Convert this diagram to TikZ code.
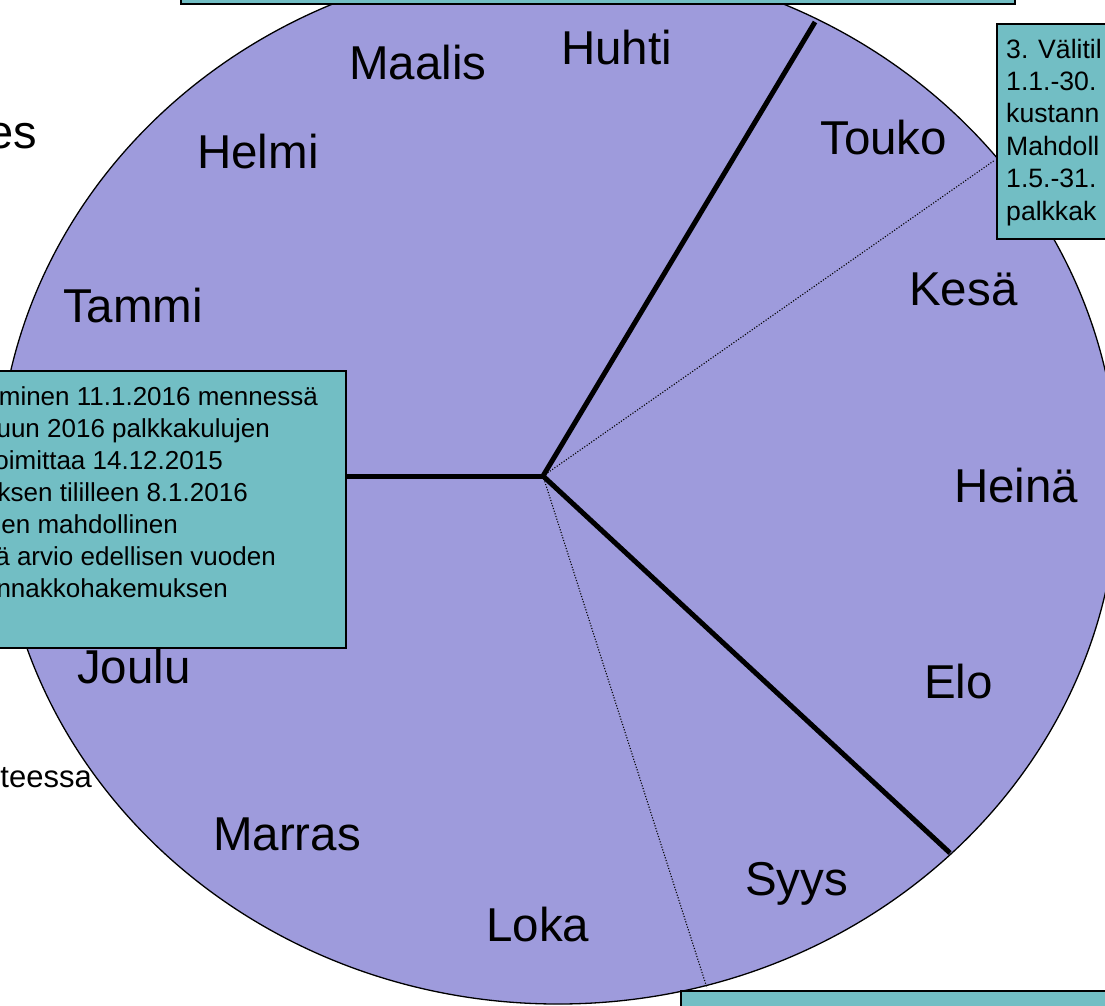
\documentclass[tikz,border=0pt]{standalone}
\usepackage{fontspec}
\setmainfont{Liberation Sans}
\definecolor{piefill}{RGB}{158,155,220}
\definecolor{boxfill}{RGB}{114,190,196}
\begin{document}
\begin{tikzpicture}[x=1pt,y=-1pt,
  month/.style={font=\fontsize{47.5}{52}\selectfont, anchor=base west, inner sep=0pt, text=black},
  boxtxt/.style={font=\fontsize{26}{32}\selectfont, anchor=base east, inner sep=0pt},
  boxtxtw/.style={font=\fontsize{26.6}{32}\selectfont, anchor=base west, inner sep=0pt},
  infobox/.style={draw=black, line width=2pt, fill=boxfill, inner sep=0pt},
  spoke/.style={line width=5pt, line join=miter},
  dotspoke/.style={line width=1.1pt, dash pattern=on 1.1pt off 1.7pt}]
\useasboundingbox (0,0) rectangle (1105,1005);
\clip (0,0) rectangle (1105,1005);
\fill[white] (0,0) rectangle (1105,1005);
% pie
\draw[fill=piefill, line width=1.3pt] (558,482) ellipse [x radius=560, y radius=522];
% spokes
\coordinate (c) at (543,476);
\coordinate (e1) at (815,22);
\coordinate (e2) at (330,476);
\coordinate (e3) at (950,853);
\coordinate (d1) at (995,160);
\coordinate (d2) at (707,988);
\draw[dotspoke] (c) -- (d1);
\draw[dotspoke] (c) -- (d2);
\draw[spoke] (e1) -- (c) -- (e3);
\draw[spoke] (c) -- (e2);
% months
\node[month] (maalis) at (349,79) {Maalis};
\node[month] (huhti) at (561,64) {Huhti};
\node[month] (helmi) at (197,168) {Helmi};
\node[month] (tammi) at (63,322) {Tammi};
\node[month] (touko) at (820,154) {Touko};
\node[month] (kesa) at (909,305) {Kesä};
\node[month] (heina) at (954,502) {Heinä};
\node[month] (elo) at (924,698) {Elo};
\node[month] (syys) at (745,895) {Syys};
\node[month] (loka) at (486,941) {Loka};
\node[month] (marras) at (213,850) {Marras};
\node[month] (joulu) at (77,683) {Joulu};
% outside texts
\node[font=\fontsize{47}{52}\selectfont, anchor=base east, inner sep=0pt] (es) at (37,148) {es};
\node[font=\fontsize{31}{36}\selectfont, anchor=base east, inner sep=0pt] (teessa) at (92,787) {teessa};
% boxes
\node[infobox, anchor=south west, minimum width=834pt, minimum height=60pt] (topbox) at (180,5) {};
\node[infobox, anchor=north west, minimum width=140pt, minimum height=215pt] (rightbox) at (996,23) {};
\node[infobox, anchor=north east, minimum width=380pt, minimum height=277pt] (leftbox) at (347,370) {};
\node[infobox, anchor=north west, minimum width=450pt, minimum height=60pt] (bottombox) at (680,990) {};
% left box text
\node[boxtxt] (l1) at (318,405) {minen 11.1.2016 mennessä};
\node[boxtxt] (l2) at (270,437) {uun 2016 palkkakulujen};
\node[boxtxt] (l3) at (223,469) {oimittaa 14.12.2015};
\node[boxtxt] (l4) at (248,501) {ksen tililleen 8.1.2016};
\node[boxtxt] (l5) at (178,533) {en mahdollinen};
\node[boxtxt] (l6) at (276,565) {ä arvio edellisen vuoden};
\node[boxtxt] (l7) at (228,597) {nnakkohakemuksen};
% right box text
\node[boxtxtw] (r1) at (1006,58) {3. Välitil};
\node[boxtxtw] (r2) at (1006,90.4) {1.1.-30.};
\node[boxtxtw] (r3) at (1006,122.8) {kustann};
\node[boxtxtw] (r4) at (1006,155.2) {Mahdoll};
\node[boxtxtw] (r5) at (1006,187.6) {1.5.-31.};
\node[boxtxtw] (r6) at (1006,220) {palkkak};
\end{tikzpicture}
\end{document}
